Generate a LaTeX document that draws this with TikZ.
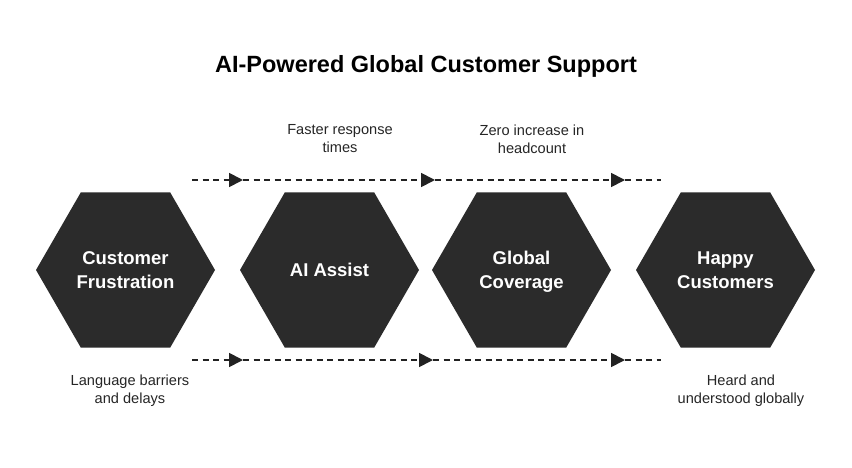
\documentclass[tikz,border=0pt]{standalone}
\usepackage{fontspec}
\setmainfont{Liberation Sans}
\usetikzlibrary{shapes.geometric,arrows.meta}
\definecolor{hexgray}{HTML}{2B2B2B}
\definecolor{dashgray}{HTML}{222222}
\begin{document}
\begin{tikzpicture}[x=1pt,y=-1pt,line cap=round,
    hexa/.style={regular polygon,regular polygon sides=6,minimum size=179pt,inner sep=0pt,
      fill=hexgray,text=white,text depth=0pt,font=\bfseries\fontsize{18.5}{24}\selectfont,align=center},
    note/.style={font=\fontsize{14.6}{18}\selectfont,align=center,text=black!85},
    flow/.style={dashgray,line width=1.8pt,line cap=butt,dash pattern=on 6pt off 4.5pt},
    tip/.style={-{Triangle[length=14pt,width=14pt]}}]
    \useasboundingbox[fill=white] (0,0) rectangle (852,468);
    \node[font=\bfseries\fontsize{23.5}{28}\selectfont] (title) at (426,66) {AI-Powered Global Customer Support};
    % hexagons
    \node[hexa] (frust) at (125.5,270) {Customer\\Frustration};
    \node[hexa] (assist) at (329.5,270) {AI Assist};
    \node[hexa] (cover) at (521.5,270) {Global\\Coverage};
    \node[hexa] (happy) at (725.5,270) {Happy\\Customers};
    % dashed flows
    \coordinate (t0) at (192,180); \coordinate (t1) at (243,180); \coordinate (t2) at (435,180);
    \coordinate (t3) at (625,180); \coordinate (t4) at (661,180);
    \coordinate (b0) at (192,360); \coordinate (b1) at (243,360); \coordinate (b2) at (433,360);
    \coordinate (b3) at (625,360); \coordinate (b4) at (661,360);
    \draw[flow,tip] (t0)--(t1); \draw[flow,tip] (t1)--(t2); \draw[flow,tip] (t2)--(t3); \draw[flow] (t3)--(t4);
    \draw[flow,tip] (b0)--(b1); \draw[flow,tip] (b1)--(b2); \draw[flow,tip] (b2)--(b3); \draw[flow] (b3)--(b4);
    % notes
    \node[note] (faster) at (340,139) {Faster response\\times};
    \node[note] (zero) at (532,139) {Zero increase in\\headcount};
    \node[note] (barrier) at (130,391) {Language barriers\\and delays};
    \node[note] (heard) at (741,391) {Heard and\\understood globally};
  \end{tikzpicture}
\end{document}
